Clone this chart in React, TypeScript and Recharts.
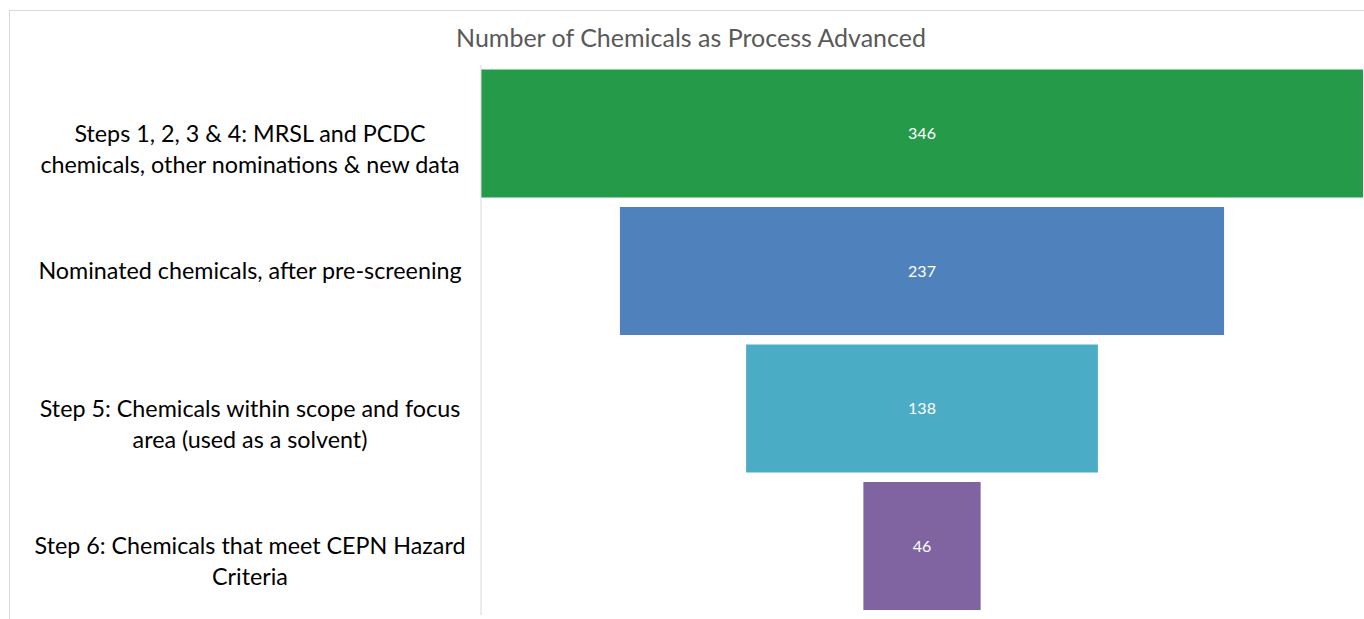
import React from "react";
import { BarChart, Bar, XAxis, YAxis, Cell, LabelList } from "recharts";

const categories: string[][] = [
  ["Steps 1, 2, 3 & 4: MRSL and PCDC", "chemicals, other nominations & new data"],
  ["Nominated chemicals, after pre-screening"],
  ["Step 5: Chemicals within scope and focus", "area (used as a solvent)"],
  ["Step 6: Chemicals that meet CEPN Hazard", "Criteria"],
];
const values: number[] = [346, 237, 138, 46];
const colors: string[] = ["#259B4A", "#4F81BD", "#4BACC6", "#8064A2"];
const title = "Number of Chemicals as Process Advanced";

const maxValue = Math.max(...values);
const data = categories.map((lines, i) => ({
  name: lines.join(" "),
  lines,
  offset: (maxValue - values[i]) / 2,
  value: values[i],
}));

const FONT = "Lato, 'Open Sans', sans-serif";

const Tick = (props: any) => {
  const { x, y, index } = props;
  const lines = categories[index] || [];
  const cx = x - 223;
  return (
    <text x={cx} y={y} textAnchor="middle" fontFamily={FONT} fontSize={23.3} fill="#000">
      {lines.map((l, i) => (
        <tspan key={i} x={cx} dy={i === 0 ? 8 : 31}>
          {l}
        </tspan>
      ))}
    </text>
  );
};

export default function App() {
  return (
    <div style={{ position: "absolute", left: 0, top: 0, width: 1364, height: 619 }}>
      <div
        style={{
          position: "absolute",
          left: 9,
          top: 10,
          width: 1355,
          height: 609,
          borderTop: "1px solid #d9d9d9",
          borderLeft: "1px solid #d9d9d9",
          boxSizing: "border-box",
        }}
      />
      <div
        style={{
          position: "absolute",
          left: 0,
          top: 22,
          width: 1382,
          textAlign: "center",
          fontFamily: FONT,
          fontSize: 25,
          color: "#595959",
        }}
      >
        {title}
      </div>
      <div style={{ position: "absolute", left: 0, top: 0 }}>
        <BarChart
          width={1364}
          height={619}
          data={data}
          layout="vertical"
          margin={{ top: 65, right: 1, bottom: 4, left: 0 }}
          barCategoryGap="3.3%"
        >
          <XAxis type="number" domain={[0, maxValue]} hide />
          <YAxis
            type="category"
            dataKey="name"
            width={481}
            axisLine={{ stroke: "#d9d9d9" }}
            tickLine={false}
            tick={<Tick />}
            interval={0}
          />
          <Bar dataKey="offset" stackId="a" fill="transparent" isAnimationActive={false} />
          <Bar dataKey="value" stackId="a" isAnimationActive={false}>
            {data.map((d, i) => (
              <Cell key={d.name} fill={colors[i]} />
            ))}
            <LabelList
              dataKey="value"
              position="center"
              fill="#ffffff"
              fontFamily={FONT}
              fontSize={16}
            />
          </Bar>
        </BarChart>
      </div>
    </div>
  );
}
